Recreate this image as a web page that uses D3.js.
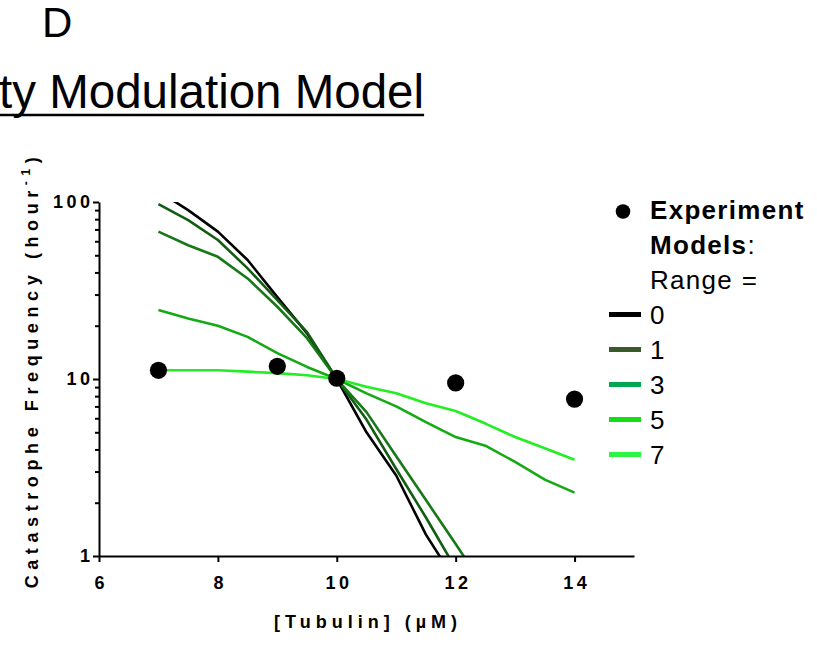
<!DOCTYPE html>
<html>
<head>
<meta charset="utf-8">
<script src="https://cdn.jsdelivr.net/npm/d3@7"></script>
<style>
  body { margin: 0; background: #fff; }
  svg { font-family: "Liberation Sans", Arial, sans-serif; }
</style>
</head>
<body>
<svg id="chart" width="817" height="645"></svg>
<script>
// Tubulin concentrations the models were run at
const tubulin = [7, 7.5, 8, 8.5, 9, 9.5, 10, 10.5, 11, 11.5, 12, 12.5, 13, 13.5, 14];

// Model catastrophe frequencies (hour^-1), one array per range
const range0 = [115, 90, 68, 47, 29, 18.1, 10, 5.0, 2.85, 1.32, 0.72];
const range1 = [97.4, 79, 61, 42.2, 27.9, 18.4, 10, 5.9, 3.1, 1.65, 0.85];
const range3 = [68, 57, 49, 37, 25.6, 17, 10, 6.5, 3.66, 2.07, 1.17, 0.65];
const range5 = [24.5, 22, 20, 17.3, 14, 11.7, 10, 8.3, 7.0, 5.7, 4.7, 4.2, 3.4, 2.7, 2.28];
const range7 = [11.2, 11.2, 11.2, 11.0, 10.8, 10.5, 10, 9.05, 8.3, 7.3, 6.6, 5.6, 4.7, 4.06, 3.5];

// Experiment points
const expTubulin = [7, 9, 10, 12, 14];
const expFreq = [11.2, 11.8, 10.1, 9.5, 7.7];

const rangeLabels = ["0", "1", "3", "5", "7"];
const lineColors = ["#000000", "#135d13", "#167816", "#14aa14", "#22ee22"];
const legendColors = ["#000000", "#3b5a2b", "#00a651", "#14dd14", "#2ef545"];

const xTicks = [6, 8, 10, 12, 14];
const yTicks = [1, 10, 100];

const svg = d3.select("#chart");

// Scales
const x = d3.scaleLinear().domain([6, 15]).range([99, 634]);
const y = d3.scaleLog().domain([1, 100]).range([556, 202]);

// Panel letter and (cut off) title
svg.append("text")
  .attr("x", 42).attr("y", 37)
  .attr("font-size", 42)
  .text("D");

const title = svg.append("text")
  .attr("x", -1).attr("y", 108)
  .attr("font-size", 47.5)
  .text("ty Modulation Model");
const tw = title.node().getComputedTextLength();
svg.append("line")
  .attr("x1", 0).attr("x2", tw - 1)
  .attr("y1", 115).attr("y2", 115)
  .attr("stroke", "#000").attr("stroke-width", 2.5);

// Clip lines to the plotting area
svg.append("clipPath").attr("id", "plot-clip")
  .append("rect")
  .attr("x", x(6)).attr("y", y(100))
  .attr("width", x(15) - x(6)).attr("height", y(1) - y(100));

// Model lines
const series = [range0, range1, range3, range5, range7];
const line = d3.line()
  .x(d => x(d[0]))
  .y(d => y(d[1]));

svg.append("g")
  .attr("clip-path", "url(#plot-clip)")
  .selectAll("path")
  .data(series.map((s, i) => ({ pts: s.map((v, j) => [tubulin[j], v]), color: lineColors[i] })))
  .enter().append("path")
  .attr("d", d => line(d.pts))
  .attr("fill", "none")
  .attr("stroke", d => d.color)
  .attr("stroke-width", 2.6)
  .attr("stroke-linejoin", "round");

// Experiment dots
svg.append("g")
  .selectAll("circle")
  .data(expTubulin.map((t, i) => [t, expFreq[i]]))
  .enter().append("circle")
  .attr("cx", d => x(d[0]))
  .attr("cy", d => y(d[1]))
  .attr("r", 8.6)
  .attr("fill", "#000");

// X axis
const xAxis = svg.append("g")
  .attr("transform", "translate(0," + y(1) + ")")
  .call(d3.axisBottom(x).tickValues(xTicks).tickSize(6).tickSizeOuter(0).tickPadding(14));

// Y axis: major and minor ticks
const minor = y.ticks().filter(v => yTicks.indexOf(v) < 0);
svg.append("g")
  .attr("transform", "translate(" + x(6) + ",0)")
  .call(d3.axisLeft(y).tickValues(minor).tickSize(4).tickFormat(""))
  .call(g => g.select(".domain").remove());

const yAxis = svg.append("g")
  .attr("transform", "translate(" + x(6) + ",0)")
  .call(d3.axisLeft(y).tickValues(yTicks).tickSize(6).tickSizeOuter(0)
    .tickFormat(d3.format("d")).tickPadding(3));

svg.selectAll(".domain, .tick line")
  .attr("stroke", "#000")
  .attr("stroke-width", 2);

svg.selectAll(".tick text")
  .attr("font-family", "\"Liberation Sans\", Arial, sans-serif")
  .attr("font-size", 18)
  .attr("font-weight", "bold")
  .attr("fill", "#000")
  .style("letter-spacing", "3.5px");
xAxis.selectAll(".tick text").attr("dx", "1.75px");
yAxis.selectAll(".tick text").attr("dx", "3.5px");

// Axis titles
svg.append("text")
  .attr("x", 368).attr("y", 628)
  .attr("text-anchor", "middle")
  .attr("font-size", 18)
  .attr("font-weight", "bold")
  .style("letter-spacing", "5px")
  .text("[Tubulin] (µM)");

const yTitle = svg.append("text")
  .attr("transform", "translate(38,370) rotate(-90)")
  .attr("text-anchor", "middle")
  .attr("font-size", 18)
  .attr("font-weight", "bold")
  .style("letter-spacing", "5.6px");
yTitle.append("tspan").text("Catastrophe Frequency (hour");
yTitle.append("tspan").attr("dy", -8).attr("font-size", 12).text("-1");
yTitle.append("tspan").attr("dy", 8).text(")");

// Legend
const legend = svg.append("g");
const lx = 650, lTop = 219, lStep = 35;

legend.append("circle")
  .attr("cx", 623).attr("cy", lTop - 7.5).attr("r", 7.3)
  .attr("fill", "#000");
legend.append("text")
  .attr("x", lx).attr("y", lTop)
  .attr("font-size", 26).attr("font-weight", "bold")
  .style("letter-spacing", "1.3px")
  .text("Experiment");
const models = legend.append("text")
  .attr("x", lx).attr("y", lTop + lStep)
  .attr("font-size", 26)
  .style("letter-spacing", "1.3px");
models.append("tspan").attr("font-weight", "bold").text("Models");
models.append("tspan").text(":");
legend.append("text")
  .attr("x", lx).attr("y", lTop + 2 * lStep)
  .attr("font-size", 26)
  .style("letter-spacing", "1.3px")
  .text("Range =");

const items = legend.selectAll(".item")
  .data(rangeLabels)
  .enter().append("g")
  .attr("class", "item")
  .attr("transform", (d, i) => "translate(0," + (lTop + (i + 3) * lStep) + ")");
items.append("line")
  .attr("x1", 609).attr("x2", 641)
  .attr("y1", -9.5).attr("y2", -9.5)
  .attr("stroke", (d, i) => legendColors[i])
  .attr("stroke-width", 5);
items.append("text")
  .attr("x", lx).attr("y", 0)
  .attr("font-size", 26)
  .text(d => d);
</script>
</body>
</html>
